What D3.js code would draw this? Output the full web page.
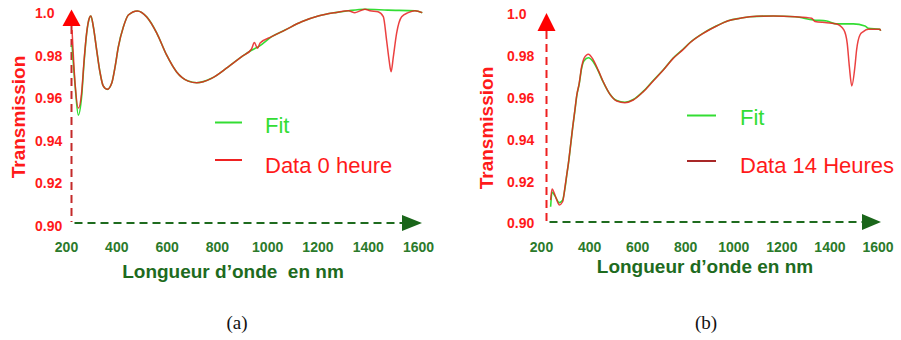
<!DOCTYPE html>
<html>
<head>
<meta charset="utf-8">
<script src="https://cdn.jsdelivr.net/npm/d3@7"></script>
<style>
  body { margin: 0; background: #fff; }
  svg { display: block; font-family: "Liberation Sans", Arial, sans-serif; }
</style>
</head>
<body>
<svg id="chart" width="901" height="340"></svg>
<script>
// tick values and labels
const ticksX = [200, 400, 600, 800, 1000, 1200, 1400, 1600];
const ticksY = [0.90, 0.92, 0.94, 0.96, 0.98, 1.0];
const tickLabelsY = ["0.90", "0.92", "0.94", "0.96", "0.98", "1.0"];

// (a) 0 heure : [nm, transmission]
const dataA = [
  [224, 0.9922], [236, 0.9673], [249, 0.9555], [262, 0.9626], [272, 0.9781], [282, 0.9908],
  [293, 0.9979], [299, 0.9988], [309, 0.9936], [322, 0.9828], [335, 0.9725], [348, 0.9659],
  [364, 0.9643], [382, 0.9673], [395, 0.9748], [408, 0.9842], [428, 0.9936], [448, 0.9993],
  [484, 1.0012], [521, 0.9984], [561, 0.9908], [600, 0.9805], [640, 0.9725], [686, 0.9682],
  [720, 0.9674], [779, 0.9695], [844, 0.9748], [899, 0.9797], [938, 0.9833], [949, 0.9863],
  [962, 0.9836], [972, 0.9861], [1018, 0.9891], [1071, 0.9922], [1137, 0.9961], [1203, 0.9988],
  [1270, 1.0004], [1323, 1.0013], [1349, 1.0004], [1389, 1.0020], [1409, 1.0013], [1441, 1.0008],
  [1462, 0.9985], [1475, 0.9875], [1485, 0.9781], [1493, 0.9726], [1502, 0.9797], [1515, 0.9908],
  [1535, 0.9985], [1561, 1.0004], [1588, 1.0013], [1617, 1.0004]
];
const fitA = [
  [224, 0.9852], [236, 0.9664], [249, 0.9522], [262, 0.9607], [272, 0.9772], [282, 0.9905],
  [293, 0.9979], [299, 0.9988], [309, 0.9936], [322, 0.9828], [335, 0.9725], [348, 0.9659],
  [364, 0.9643], [382, 0.9673], [395, 0.9748], [408, 0.9842], [428, 0.9936], [448, 0.9993],
  [484, 1.0012], [521, 0.9984], [561, 0.9908], [600, 0.9805], [640, 0.9725], [686, 0.9682],
  [720, 0.9674], [779, 0.9695], [844, 0.9748], [899, 0.9797], [938, 0.9827], [972, 0.9849],
  [1018, 0.9891], [1071, 0.9922], [1137, 0.9961], [1203, 0.9988], [1270, 1.0004], [1323, 1.0013],
  [1389, 1.0020], [1480, 1.0016], [1588, 1.0013], [1617, 1.0004]
];

// (b) 14 heures : [nm, transmission]
const dataB = [
  [240, 0.9112], [246, 0.9165], [258, 0.9136], [271, 0.9098], [276, 0.9089], [290, 0.9104],
  [300, 0.9176], [307, 0.9232], [314, 0.9288], [324, 0.9384], [332, 0.9463], [341, 0.9543],
  [349, 0.9615], [359, 0.9671], [369, 0.9750], [379, 0.9790], [397, 0.9810], [418, 0.9782],
  [438, 0.9734], [459, 0.9678], [487, 0.9618], [515, 0.9586], [549, 0.9578], [584, 0.9591],
  [626, 0.9631], [667, 0.9682], [709, 0.9734], [750, 0.9790], [792, 0.9833], [820, 0.9865],
  [875, 0.9910], [931, 0.9945], [979, 0.9970], [1028, 0.9982], [1069, 0.9989], [1166, 0.9993],
  [1257, 0.9989], [1326, 0.9982], [1340, 0.9966], [1389, 0.9961], [1430, 0.9955], [1460, 0.9926],
  [1474, 0.9862], [1483, 0.9750], [1493, 0.9658], [1506, 0.9750], [1513, 0.9830], [1527, 0.9902],
  [1541, 0.9918], [1562, 0.9929], [1610, 0.9929], [1613, 0.9922]
];
const fitB = [
  [240, 0.9080], [246, 0.9151], [258, 0.9132], [276, 0.9100], [290, 0.9112], [300, 0.9170],
  [307, 0.9230], [314, 0.9286], [324, 0.9382], [332, 0.9460], [341, 0.9540], [349, 0.9612],
  [359, 0.9668], [369, 0.9742], [379, 0.9778], [397, 0.9793], [418, 0.9773], [438, 0.9730],
  [459, 0.9676], [487, 0.9618], [515, 0.9588], [549, 0.9580], [584, 0.9593], [626, 0.9633],
  [667, 0.9684], [709, 0.9736], [750, 0.9792], [792, 0.9835], [820, 0.9866], [875, 0.9911],
  [931, 0.9946], [979, 0.9970], [1028, 0.9982], [1069, 0.9989], [1166, 0.9993], [1257, 0.9989],
  [1333, 0.9974], [1389, 0.9969], [1430, 0.9955], [1499, 0.9955], [1548, 0.9945], [1562, 0.9934],
  [1610, 0.9929], [1613, 0.9922]
];

const svg = d3.select("#chart");

const green = "#33dd33", red = "#ff1a1a";
const axisGreen = "#1e6b1e", labelGreen = "#2b7a2b";

function drawPanel(p) {
  const x = d3.scaleLinear().domain([200, 1600]).range(p.xRange);
  const y = d3.scaleLinear().domain([0.90, 1.0]).range(p.yRange);
  const g = svg.append("g");

  // dashed axes
  g.append("line")
    .attr("x1", p.ox).attr("x2", p.ox)
    .attr("y1", p.arrowY.base).attr("y2", p.oy - 1)
    .attr("stroke", p.yAxisColor).attr("stroke-width", 2)
    .attr("stroke-dasharray", "8,5");
  g.append("line")
    .attr("x1", p.ox + 3).attr("x2", p.arrowX.base)
    .attr("y1", p.oy).attr("y2", p.oy)
    .attr("stroke", axisGreen).attr("stroke-width", 2)
    .attr("stroke-dasharray", "8,5");

  // arrow heads
  g.append("path")
    .attr("d", `M${p.ox - 9},${p.arrowY.base}L${p.ox + 9},${p.arrowY.base}L${p.ox},${p.arrowY.tip}Z`)
    .attr("fill", "#ff0000");
  g.append("path")
    .attr("d", `M${p.arrowX.base},${p.oy - 8}L${p.arrowX.base},${p.oy + 8}L${p.arrowX.tip},${p.oy}Z`)
    .attr("fill", "#1a661a");

  // y tick labels (left aligned)
  const ya = g.append("g")
    .attr("transform", `translate(${p.yLabelX},0)`)
    .call(d3.axisLeft(y).tickValues(ticksY).tickFormat((d, i) => tickLabelsY[i]).tickSize(0));
  ya.select(".domain").remove();
  ya.selectAll("text")
    .attr("x", 0).attr("text-anchor", "start")
    .attr("fill", red).style("font-size", "14px").style("font-weight", "bold")
    .style("font-family", "'Liberation Sans', Arial, sans-serif");

  // x tick labels
  const xa = g.append("g")
    .attr("transform", `translate(0,${p.xLabelY})`)
    .call(d3.axisBottom(x).tickValues(ticksX).tickFormat(d3.format("d")).tickSize(0));
  xa.select(".domain").remove();
  xa.selectAll("text")
    .attr("y", 0).attr("dy", "0.35em")
    .attr("fill", labelGreen).style("font-size", "14px").style("font-weight", "bold")
    .style("font-family", "'Liberation Sans', Arial, sans-serif");

  // axis titles
  g.append("text")
    .attr("x", p.xTitle[0]).attr("y", p.xTitle[1])
    .attr("text-anchor", "middle")
    .attr("fill", axisGreen).style("font-size", "19px").style("font-weight", "bold")
    .style("white-space", "pre")
    .text(p.xTitleText);
  g.append("text")
    .attr("transform", `translate(${p.yTitle[0]},${p.yTitle[1]}) rotate(-90)`)
    .attr("text-anchor", "middle")
    .attr("fill", red).style("font-size", "19px").style("font-weight", "bold")
    .text("Transmission");

  // curves
  const line = d3.line().x(d => x(d[0])).y(d => y(d[1])).curve(d3.curveMonotoneX);
  g.append("path").datum(p.fit).attr("d", line)
    .attr("fill", "none").attr("stroke", green).attr("stroke-width", 1.6);
  g.append("path").datum(p.data).attr("d", line)
    .attr("fill", "none").attr("stroke", "#e82020").attr("stroke-width", 1.5)
    .attr("stroke-opacity", 0.85);

  // legend
  const lg = g.append("g").attr("transform", `translate(${p.legend[0]},${p.legend[1]})`);
  lg.append("line").attr("x1", 0).attr("x2", p.legendLineW).attr("y1", 0).attr("y2", 0)
    .attr("stroke", green).attr("stroke-width", 2);
  lg.append("text").attr("x", p.legendTextX).attr("y", p.legendTextDy)
    .attr("fill", green).style("font-size", "22px").text("Fit");
  lg.append("line").attr("x1", 0).attr("x2", p.legendLineW)
    .attr("y1", p.legendGap).attr("y2", p.legendGap)
    .attr("stroke", p.dataLegendColor).attr("stroke-width", 2);
  lg.append("text").attr("x", p.legendTextX).attr("y", p.legendGap + p.legendTextDy + 2)
    .attr("fill", red).style("font-size", "22px").text(p.dataLabel);

  // caption
  svg.append("text")
    .attr("x", p.caption[0]).attr("y", p.caption[1])
    .attr("text-anchor", "middle")
    .style("font-family", "'Liberation Serif', 'Times New Roman', serif")
    .style("font-size", "19px").attr("fill", "#111")
    .text(p.captionText);
}

drawPanel({
  xRange: [66, 418], yRange: [226, 13.5],
  ox: 71.5, oy: 223,
  arrowY: { tip: 9.5, base: 26 }, arrowX: { base: 402, tip: 422 },
  yAxisColor: "#c42a2a",
  yLabelX: 35, xLabelY: 247,
  xTitle: [233, 278], xTitleText: "Longueur d\u2019onde  en nm",
  yTitle: [25, 117],
  fit: fitA, data: dataA,
  legend: [215, 122.5], legendLineW: 27, legendTextX: 50, legendTextDy: 10.5, legendGap: 37.5,
  dataLegendColor: "#ee2222", dataLabel: "Data 0 heure",
  caption: [237, 329], captionText: "(a)"
});

drawPanel({
  xRange: [541, 877.5], yRange: [223.5, 14.5],
  ox: 546.5, oy: 222,
  arrowY: { tip: 13, base: 31 }, arrowX: { base: 862, tip: 881 },
  yAxisColor: "#ee2020",
  yLabelX: 507, xLabelY: 246.7,
  xTitle: [705, 273], xTitleText: "Longueur d\u2019onde en nm",
  yTitle: [493, 128],
  fit: fitB, data: dataB,
  legend: [687, 115.5], legendLineW: 29, legendTextX: 53, legendTextDy: 9.5, legendGap: 45.5,
  dataLegendColor: "#a82828", dataLabel: "Data 14 Heures",
  caption: [706, 329], captionText: "(b)"
});
</script>
</body>
</html>
